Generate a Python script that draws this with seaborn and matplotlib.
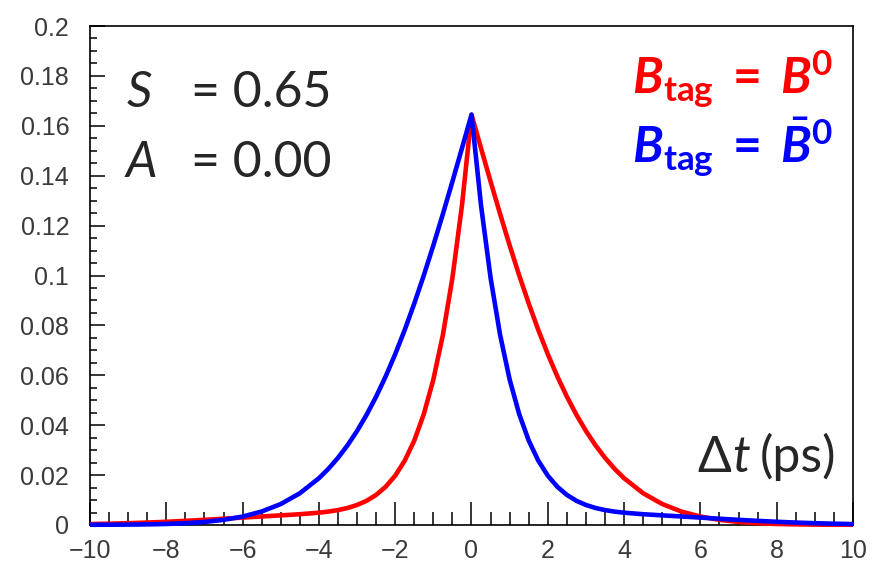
import matplotlib
matplotlib.use("Agg")
import matplotlib.pyplot as plt
import seaborn as sns
import pandas as pd
from matplotlib.ticker import FixedLocator, MultipleLocator

# ---- data ----
dt = [-10, -9.5, -9, -8.5, -8, -7.5, -7, -6.5, -6, -5.5, -5, -4.5,
      -4, -3.75, -3.5, -3.25, -3, -2.75, -2.5, -2.25, -2, -1.75, -1.5, -1.25,
      -1, -0.75, -0.5, -0.25, 0, 0.25, 0.5, 0.75, 1, 1.25, 1.5, 1.75,
      2, 2.25, 2.5, 2.75, 3, 3.25, 3.5, 3.75, 4,
      4.5, 5, 5.5, 6, 6.5, 7, 7.5, 8, 8.5, 9, 9.5, 10]

blue_vals = [0.00009, 0.00011, 0.00016, 0.00025, 0.00041, 0.00071, 0.00122, 0.00206,
             0.00338, 0.00541, 0.00840, 0.01272,
             0.01874, 0.02253, 0.02692, 0.03195, 0.03769, 0.04418, 0.05145, 0.05955,
             0.06847, 0.07822, 0.08878, 0.10008, 0.11207, 0.12465, 0.13767, 0.15100,
             0.16447,
             0.12807, 0.09907, 0.07619, 0.05830, 0.04445, 0.03384, 0.02580, 0.01977,
             0.01532, 0.01206, 0.00970, 0.00802, 0.00682, 0.00598, 0.00537, 0.00493,
             0.00432, 0.00386, 0.00342, 0.00297, 0.00251, 0.00207, 0.00166, 0.00129,
             0.00098, 0.00072, 0.00052, 0.00037]

red_vals = [0.00037, 0.00052, 0.00072, 0.00098, 0.00129, 0.00166, 0.00207, 0.00251,
            0.00297, 0.00342, 0.00386, 0.00432,
            0.00493, 0.00537, 0.00598, 0.00682, 0.00802, 0.00970, 0.01206, 0.01532,
            0.01977, 0.02580, 0.03384, 0.04445, 0.05830, 0.07619, 0.09907, 0.12807,
            0.16447,
            0.15100, 0.13767, 0.12465, 0.11207, 0.10008, 0.08878, 0.07822, 0.06847,
            0.05955, 0.05145, 0.04418, 0.03769, 0.03195, 0.02692, 0.02253, 0.01874,
            0.01272, 0.00840, 0.00541, 0.00338, 0.00206, 0.00122, 0.00071, 0.00041,
            0.00025, 0.00016, 0.00011, 0.00009]

series_names = ["red", "blue"]
x_ticks = [-10, -8, -6, -4, -2, 0, 2, 4, 6, 8, 10]
x_tick_labels = ["\u221210", "\u22128", "\u22126", "\u22124", "\u22122", "0", "2", "4", "6", "8", "10"]
y_ticks = [0, 0.02, 0.04, 0.06, 0.08, 0.1, 0.12, 0.14, 0.16, 0.18, 0.2]
y_tick_labels = ["0", "0.02", "0.04", "0.06", "0.08", "0.1", "0.12", "0.14", "0.16", "0.18", "0.2"]

df = pd.concat([
    pd.DataFrame({"dt": dt, "value": red_vals, "tag": "red"}),
    pd.DataFrame({"dt": dt, "value": blue_vals, "tag": "blue"}),
], ignore_index=True)

sns.set_theme(style="ticks")
plt.rcParams["font.family"] = ["Lato", "Noto Sans", "DejaVu Sans"]
plt.rcParams["mathtext.fontset"] = "custom"
plt.rcParams["mathtext.rm"] = "Lato"
plt.rcParams["mathtext.it"] = "Lato:italic"
plt.rcParams["mathtext.bf"] = "Lato:bold"
plt.rcParams["mathtext.bfit"] = "Lato:italic:bold"

W, H = 878, 565
fig = plt.figure(figsize=(W / 100, H / 100), dpi=100)
ax = fig.add_axes([90 / W, 1 - 525 / H, (853 - 90) / W, (525 - 26) / H])

sns.lineplot(data=df, x="dt", y="value", hue="tag", hue_order=series_names,
             palette={"red": "#ff0000", "blue": "#0000ff"}, estimator=None,
             linewidth=3.3, legend=False, ax=ax)
for ln in ax.lines:
    ln.set_clip_on(False)
    ln.set_zorder(3)
    ln.set_solid_capstyle("butt")

ax.set_xlim(-10, 10)
ax.set_ylim(0, 0.2)
ax.set_xlabel("")
ax.set_ylabel("")

for s in ax.spines.values():
    s.set_visible(True)
    s.set_color("black")
    s.set_linewidth(1.2)

ax.xaxis.set_major_locator(FixedLocator(x_ticks))
ax.set_xticklabels(x_tick_labels)
ax.xaxis.set_minor_locator(MultipleLocator(0.5))
ax.yaxis.set_major_locator(FixedLocator(y_ticks))
ax.set_yticklabels(y_tick_labels)
ax.yaxis.set_minor_locator(MultipleLocator(0.005))

tick_font = ["Liberation Sans Narrow", "DejaVu Sans Condensed", "Liberation Sans"]
ax.tick_params(axis="x", which="major", direction="in", length=16.5, width=1.1,
               color="black", pad=10, labelsize=18, labelcolor="#3a3a3a",
               top=False, bottom=True)
ax.tick_params(axis="x", which="minor", direction="in", length=9.4, width=1.1,
               color="black", top=False, bottom=True)
ax.tick_params(axis="y", which="major", direction="in", length=10.8, width=1.1,
               color="black", pad=15, labelsize=18, labelcolor="#3a3a3a",
               right=False, left=True)
ax.tick_params(axis="y", which="minor", direction="in", length=5, width=1.1,
               color="black", right=False, left=True)
for lab in ax.get_xticklabels() + ax.get_yticklabels():
    lab.set_family(tick_font)


def fx(x):
    return x / W


def fy(y):
    return 1 - y / H


fs = 36
# S and A annotations
fig.text(fx(127), fy(107), "S", fontsize=fs, style="italic", va="baseline", ha="left")
fig.text(fx(191), fy(107), "= 0.65", fontsize=fs, va="baseline", ha="left")
fig.text(fx(126), fy(177), "A", fontsize=fs, style="italic", va="baseline", ha="left")
fig.text(fx(191), fy(177), "= 0.00", fontsize=fs, va="baseline", ha="left")

# tag labels
fig.text(fx(632), fy(93), r"$\mathbfit{B}_{\mathbf{tag}}\;\mathbf{=}\;\mathbfit{B}^{\mathbf{0}}$",
         fontsize=fs, color="#ff0000", va="baseline", ha="left")
fig.text(fx(632), fy(163), r"$\mathbfit{B}_{\mathbf{tag}}\;\mathbf{=}\;\bar{\mathbfit{B}}^{\mathbf{0}}$",
         fontsize=fs, color="#0000ff", va="baseline", ha="left")

# axis title
fig.text(fx(697), fy(472), "\u0394", fontsize=fs, va="baseline", ha="left")
fig.text(fx(732), fy(472), "t", fontsize=fs, style="italic", va="baseline", ha="left")
fig.text(fx(760), fy(472), "(ps)", fontsize=fs, va="baseline", ha="left")

fig.savefig("out.png", dpi=100)
